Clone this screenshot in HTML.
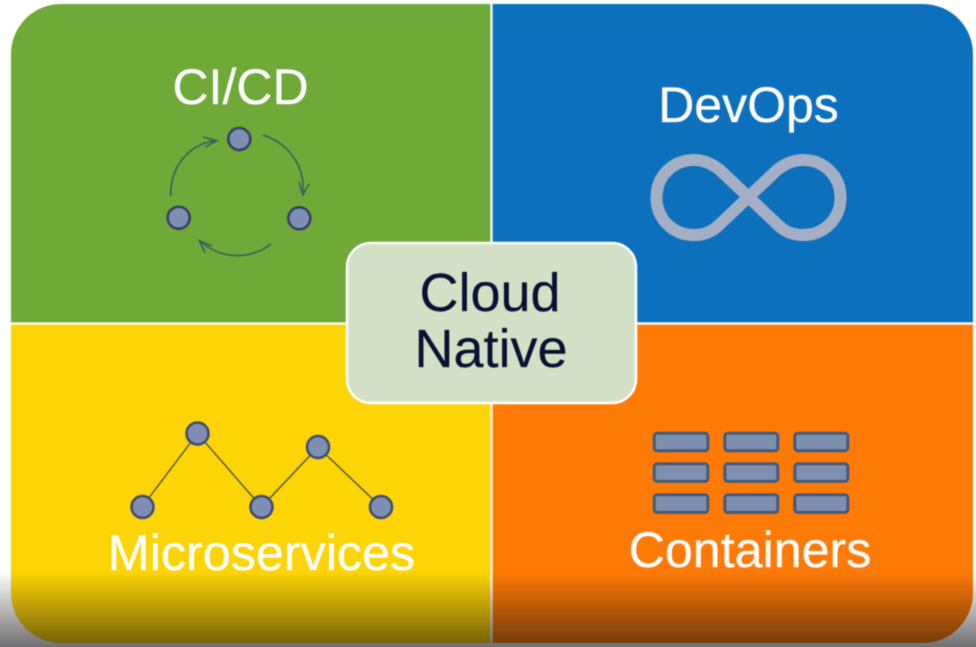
<!DOCTYPE html>
<html><head><meta charset="utf-8"><style>
html,body{margin:0;padding:0;background:#fff;width:976px;height:647px;overflow:hidden}
body{position:relative}
svg{display:block;position:absolute;left:-10px;top:-10px;filter:blur(.55px)}
text{font-family:"Liberation Sans",sans-serif}
</style></head><body>
<svg width="996" height="667" viewBox="-10 -10 996 667" xmlns="http://www.w3.org/2000/svg">
<defs>
<clipPath id="p"><rect x="11" y="4" width="962" height="639" rx="50" ry="50"/></clipPath>
<linearGradient id="sh" x1="0" y1="0" x2="0" y2="1">
<stop offset="0" stop-color="#08080c" stop-opacity="0"/>
<stop offset="1" stop-color="#08080c" stop-opacity=".58"/>
</linearGradient>
</defs>
<rect x="-10" y="-10" width="996" height="667" fill="#fff"/>
<g clip-path="url(#p)">
<rect x="11" y="4" width="480" height="319" fill="#6fa938"/>
<rect x="491" y="4" width="482" height="319" fill="#0c70bd"/>
<rect x="11" y="323" width="480" height="320" fill="#fdd405"/>
<rect x="491" y="323" width="482" height="320" fill="#fe7a07"/>
<path d="M491.500 4V643M11 323.500H973" stroke="#fff" stroke-width="2.500" opacity=".9"/>
</g>
<g fill="#fff" stroke="#fff" stroke-width=".25">
<text x="240.500" y="104" font-size="50" text-anchor="middle">CI/CD</text>
<text x="748.500" y="122" font-size="50" text-anchor="middle">DevOps</text>
<text x="261.500" y="570" font-size="50.300" text-anchor="middle">Microservices</text>
<text x="750" y="567" font-size="50.200" text-anchor="middle">Containers</text>
</g>
<!-- CI/CD cycle -->
<g fill="none" stroke="#3f5c5c" stroke-width="1.600">
<path d="M263 135 C288 143 306 166 302.700 195"/>
<path d="M299 182 L302.700 195 L309 184"/>
<path d="M271 244 C250 260 222 260 199.300 240.700"/>
<path d="M212 246 L199.300 240.700 L205 252.700"/>
<path d="M170.700 196 C170 166 190 143 216.700 140.700"/>
<path d="M203 137 L216.700 140.700 L205 147"/>
</g>
<g fill="#7f8fb4" stroke="#333f66" stroke-width="2.500">
<circle cx="239.300" cy="139" r="11"/>
<circle cx="178.700" cy="217.700" r="11"/>
<circle cx="299.300" cy="218.300" r="11"/>
</g>
<!-- Infinity -->
<path d="M720 170 C711 163 703 160 694 160 C673 160 656.500 176 656.500 197.500 C656.500 219 673 235 694 235 C704 235 712 232 719 225 L777 170 C786 163 794 160 803 160 C824 160 840.500 176 840.500 197.500 C840.500 219 824 235 803 235 C793 235 785 232 778 225 Z" fill="none" stroke="#a4aec4" stroke-width="12"/>
<!-- Microservices -->
<path d="M142 507 L197.500 433.500 L261.500 507 L318 447 L381 507" fill="none" stroke="#3d4a55" stroke-width="1.300"/>
<g fill="#7f8fb4" stroke="#3e4a70" stroke-width="2.500">
<circle cx="142.500" cy="507" r="11"/>
<circle cx="197.500" cy="433.500" r="11"/>
<circle cx="261.500" cy="507" r="11"/>
<circle cx="318" cy="447" r="11"/>
<circle cx="381" cy="507" r="11"/>
</g>
<!-- Containers -->
<g fill="#7f8fb0" stroke="#44597a" stroke-width="3">
<rect x="654.200" y="433.200" width="53.600" height="17.600" rx="3"/>
<rect x="724.800" y="433.200" width="53" height="17.600" rx="3"/>
<rect x="794.800" y="433.200" width="53" height="17.600" rx="3"/>
<rect x="654.200" y="463.800" width="53.600" height="17.600" rx="3"/>
<rect x="724.800" y="463.800" width="53" height="17.600" rx="3"/>
<rect x="794.800" y="463.800" width="53" height="17.600" rx="3"/>
<rect x="654.200" y="494.800" width="53.600" height="17.600" rx="3"/>
<rect x="724.800" y="494.800" width="53" height="17.600" rx="3"/>
<rect x="794.800" y="494.800" width="53" height="17.600" rx="3"/>
</g>
<!-- Center -->
<rect x="347" y="243" width="289" height="160" rx="24" ry="24" fill="#d3e0c6" stroke="#fff" stroke-width="2.500"/>
<g fill="#0c1033" stroke="#0c1033" stroke-width=".2">
<text x="490" y="311" font-size="54" text-anchor="middle">Cloud</text>
<text x="491" y="367" font-size="54" text-anchor="middle">Native</text>
</g>
<!-- Bottom shadow -->
<rect x="-10" y="572" width="996" height="75" fill="url(#sh)"/>
<rect x="-10" y="647" width="996" height="10" fill="#08080c" fill-opacity=".58"/>
</svg>
</body></html>
